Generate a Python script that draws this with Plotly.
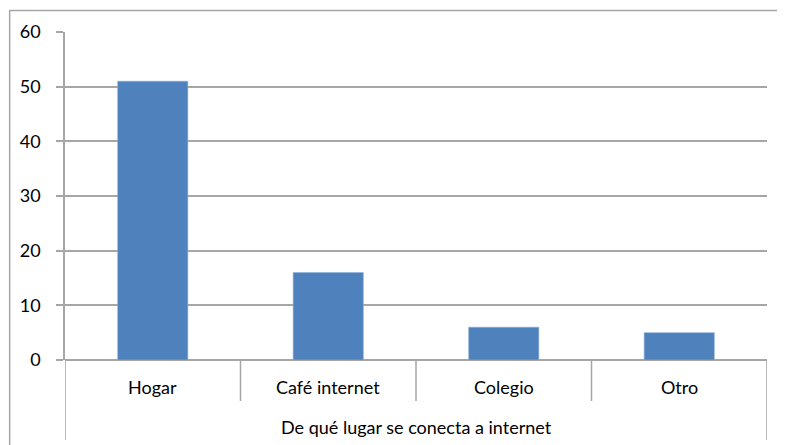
import plotly.graph_objects as go

categories = ["Hogar", "Café internet", "Colegio", "Otro"]
values = [51, 16, 6, 5]
group_label = "De qué lugar se conecta a internet"
y_ticks = [0, 10, 20, 30, 40, 50, 60]

# page body has an 8px margin; the figure starts at (8, 8)
OFF = 8
W, H = 785 - OFF, 445 - OFF
L, R, T, B = 63 - OFF, 18, 32 - OFF, 85
plot_h = H - T - B
plot_w = W - L - R
grid = "#A6A6A6"
font = "Lato"
fsize = 18

fig = go.Figure(go.Bar(x=list(range(len(categories))), y=values,
                       marker=dict(color="#4F81BD", line=dict(color="#8EB0DA", width=0.6)),
                       width=0.4))

def py(px):  # pixel offset below the plot bottom -> paper y
    return -px / plot_h

def pxx(px):  # absolute page x -> paper x
    return (px - OFF - L) / plot_w

shapes = []
for i in range(1, len(categories)):
    shapes.append(dict(type="line", xref="x", yref="paper", x0=i - 0.5, x1=i - 0.5,
                       y0=0, y1=py(41), line=dict(color=grid, width=1.5)))
for xv in [-0.5, len(categories) - 0.5]:
    shapes.append(dict(type="line", xref="x", yref="paper", x0=xv, x1=xv,
                       y0=0, y1=py(80), line=dict(color=grid, width=1.5)))
shapes.append(dict(type="rect", xref="paper", yref="paper", x0=pxx(7.5), x1=pxx(800),
                   y0=py(100), y1=1 + 21.5 / plot_h, line=dict(color=grid, width=1.5)))

annotations = []
for i, c in enumerate(categories):
    annotations.append(dict(x=i, xref="x", y=py(27), yref="paper", text=c, showarrow=False,
                            font=dict(family=font, size=fsize, color="#000000"),
                            xanchor="center", yanchor="middle"))
annotations.append(dict(x=(len(categories) - 1) / 2, xref="x", y=py(67), yref="paper",
                        text=group_label, showarrow=False,
                        font=dict(family=font, size=fsize, color="#000000"),
                        xanchor="center", yanchor="middle"))

fig.update_layout(
    width=W, height=H,
    margin=dict(l=L, r=R, t=T, b=B),
    paper_bgcolor="white", plot_bgcolor="white",
    showlegend=False,
    shapes=shapes, annotations=annotations,
    xaxis=dict(range=[-0.5, len(categories) - 0.5], showticklabels=False, ticks="",
               showgrid=False, zeroline=False, showline=False, fixedrange=True),
    yaxis=dict(range=[0, 60], tickvals=y_ticks, showgrid=True, gridcolor=grid, gridwidth=1.5,
               zeroline=True, zerolinecolor=grid, zerolinewidth=1.5,
               showline=True, linecolor=grid, linewidth=1.5,
               ticks="outside", ticklen=7, tickcolor=grid, tickwidth=1.5,
               ticklabelstandoff=12,
               tickfont=dict(family=font, size=fsize, color="#000000")),
)

fig.write_html("out.html")
